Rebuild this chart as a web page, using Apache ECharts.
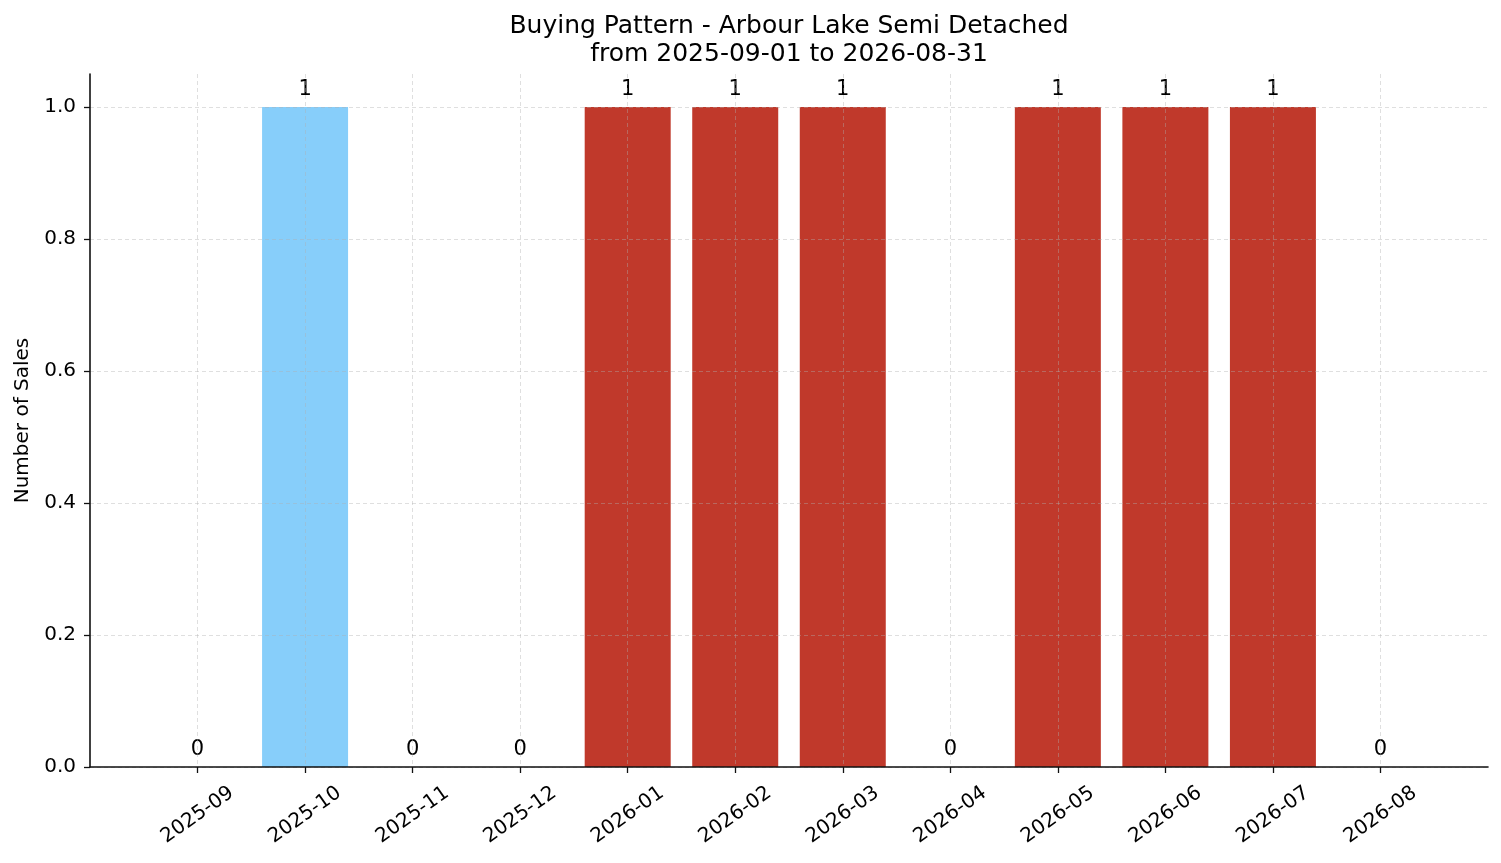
<!DOCTYPE html>
<html>
<head>
    <meta charset="utf-8">
    <script src="https://cdn.jsdelivr.net/npm/echarts@6/dist/echarts.min.js"></script>
    <style>
        html, body { margin: 0; padding: 0; background: #fff; }
        #main { width: 1501px; height: 863px; }
    </style>
</head>
<body>
<div id="main"></div>
<script type="text/javascript">
    // months shown on the x axis
    var months = ['2025-09', '2025-10', '2025-11', '2025-12', '2026-01', '2026-02',
                  '2026-03', '2026-04', '2026-05', '2026-06', '2026-07', '2026-08'];
    // sales count per month
    var sales = [0, 1, 0, 0, 1, 1, 1, 0, 1, 1, 1, 0];
    // y tick values
    var yTicks = [0, 0.2, 0.4, 0.6, 0.8, 1.0];
    // bar colour by year
    var yearColors = { '2025': '#87CEFA', '2026': '#C0392B' };

    var font = 'DejaVu Sans';
    var gridColor = 'rgba(176,176,176,0.5)';
    var spineColor = '#111';

    // pad one empty slot each side so the bars sit one step in from the edges
    var cats = [''].concat(months).concat(['']);
    var barData = [{ value: '-' }];
    months.forEach(function (m, i) {
        barData.push({
            value: sales[i],
            itemStyle: { color: yearColors[m.slice(0, 4)] }
        });
    });
    barData.push({ value: '-' });

    var isPad = function (idx) { return idx === 0 || idx === cats.length - 1; };

    var myChart = echarts.init(document.getElementById('main'));
    var option = {
        animation: false,
        backgroundColor: '#fff',
        title: {
            text: 'Buying Pattern - Arbour Lake Semi Detached\nfrom 2025-09-01 to 2026-08-31',
            left: 784,
            textAlign: 'center',
            top: 7,
            textStyle: {
                fontFamily: font,
                fontWeight: 'normal',
                fontSize: 25,
                lineHeight: 28,
                color: '#000'
            }
        },
        grid: { left: 90, right: 13, top: 74, bottom: 96, containLabel: false },
        xAxis: {
            type: 'category',
            data: cats,
            boundaryGap: false,
            z: 5,
            axisLine: { lineStyle: { color: spineColor, width: 1.6 } },
            axisTick: {
                show: true,
                length: 6,
                interval: function (idx) { return !isPad(idx); },
                lineStyle: { color: spineColor, width: 1.3 }
            },
            axisLabel: {
                interval: 0,
                rotate: 35,
                align: 'center',
                verticalAlign: 'middle',
                margin: 48,
                fontFamily: font,
                fontSize: 20,
                color: '#000'
            },
            splitLine: {
                show: true,
                interval: function (idx) { return !isPad(idx); },
                lineStyle: { color: gridColor, type: [4, 3], width: 0.8 }
            }
        },
        yAxis: {
            type: 'value',
            min: 0,
            max: 1.05,
            z: 5,
            name: 'Number of Sales',
            nameLocation: 'middle',
            nameGap: 55,
            nameTextStyle: { fontFamily: font, fontSize: 20, color: '#000' },
            axisLine: { show: true, lineStyle: { color: spineColor, width: 1.6 } },
            axisTick: {
                show: true,
                length: 6,
                customValues: yTicks,
                lineStyle: { color: spineColor, width: 1.3 }
            },
            axisLabel: {
                customValues: yTicks,
                fontFamily: font,
                fontSize: 20,
                color: '#000',
                margin: 14,
                formatter: function (v) { return v.toFixed(1); }
            },
            splitLine: {
                show: true,
                lineStyle: { color: gridColor, type: [4, 3], width: 0.8 }
            }
        },
        series: [{
            type: 'bar',
            data: barData,
            barWidth: 86,
            z: 2,
            label: {
                show: true,
                position: 'top',
                distance: 7,
                fontFamily: font,
                fontSize: 21,
                color: '#000'
            }
        }]
    };
    myChart.setOption(option);
</script>
</body>
</html>
